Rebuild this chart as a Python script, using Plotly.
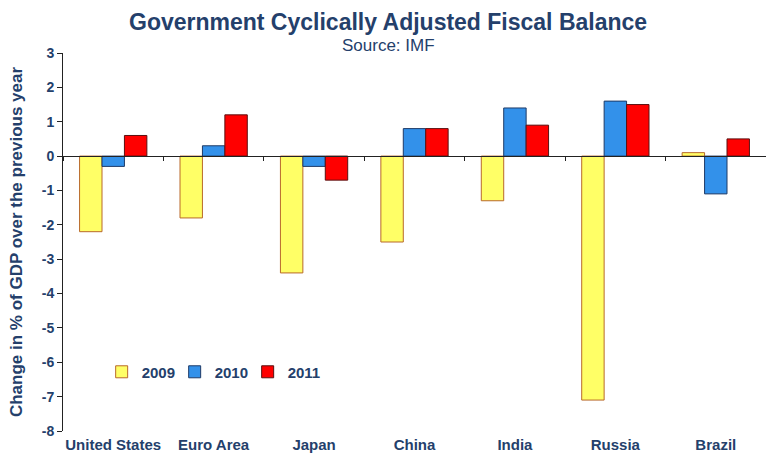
import plotly.graph_objects as go

countries = ["United States", "Euro Area", "Japan", "China", "India", "Russia", "Brazil"]
years = ["2009", "2010", "2011"]
bal_2009 = [-2.2, -1.8, -3.4, -2.5, -1.3, -7.1, 0.1]
bal_2010 = [-0.3, 0.3, -0.3, 0.8, 1.4, 1.6, -1.1]
bal_2011 = [0.6, 1.2, -0.7, 0.8, 0.9, 1.5, 0.5]
y_ticks = [3, 2, 1, 0, -1, -2, -3, -4, -5, -6, -7, -8]

navy = "#24406B"
font_family = "Liberation Sans, Arial, sans-serif"
series = [
    (years[0], bal_2009, "#FFFF66", "#B8692A"),
    (years[1], bal_2010, "#3391EA", "#1E3A66"),
    (years[2], bal_2011, "#FF0000", "#5A1010"),
]

fig = go.Figure()
for name, vals, fill, edge in series:
    fig.add_trace(go.Bar(
        x=countries, y=vals, name=f"<b>{name}</b>",
        marker=dict(color=fill, line=dict(color=edge, width=1)),
    ))

# helper axis drawn through zero, carrying the category divider ticks
fig.add_trace(go.Scatter(x=[], y=[], xaxis="x2", showlegend=False, hoverinfo="skip"))

y0_frac = (0 - y_ticks[-1]) / (y_ticks[0] - y_ticks[-1])

fig.update_layout(
    width=766, height=457,
    margin=dict(l=63, r=0, t=53, b=26),
    paper_bgcolor="white", plot_bgcolor="white",
    barmode="group", bargap=0.33, bargroupgap=0,
    font=dict(family=font_family, color=navy),
    annotations=[
        dict(text="<b>Government Cyclically Adjusted Fiscal Balance</b>",
             xref="paper", yref="paper", x=0.463, y=1.082,
             xanchor="center", yanchor="middle", showarrow=False,
             font=dict(size=23, color=navy)),
        dict(text="Source: IMF",
             xref="paper", yref="paper", x=0.463, y=1.021,
             xanchor="center", yanchor="middle", showarrow=False,
             font=dict(size=17, color=navy)),
    ],
    xaxis=dict(
        showline=False, ticks="", showgrid=False, zeroline=False,
        tickvals=countries, ticktext=[f"<b>{c}</b>" for c in countries],
        tickfont=dict(size=15, color=navy),
        ticklabelstandoff=3,
    ),
    xaxis2=dict(
        overlaying="x", anchor="free", position=y0_frac, side="bottom",
        range=[-0.5, len(countries) - 0.5], tick0=0.5, dtick=1,
        showline=True, linecolor="#222222", linewidth=1,
        ticks="outside", ticklen=4, tickcolor="#222222",
        showticklabels=False, showgrid=False, zeroline=False,
    ),
    yaxis=dict(
        range=[y_ticks[-1], y_ticks[0]], tickvals=y_ticks,
        ticktext=[f"<b>{v}</b>" for v in y_ticks],
        showline=True, linecolor="#222222", linewidth=1,
        ticks="outside", ticklen=5, tickcolor="#222222",
        showgrid=False, zeroline=False,
        tickfont=dict(size=14, color=navy),
        title=dict(text="<b>Change in % of GDP over the previous year</b>",
                   font=dict(size=17, color=navy), standoff=14),
    ),
    legend=dict(
        orientation="h", x=0.055, y=0.156, xanchor="left", yanchor="middle",
        font=dict(size=15, color=navy), bgcolor="rgba(0,0,0,0)",
        itemwidth=30, traceorder="normal",
        entrywidth=28, entrywidthmode="pixels",
    ),
)

fig.write_html("out.html")
